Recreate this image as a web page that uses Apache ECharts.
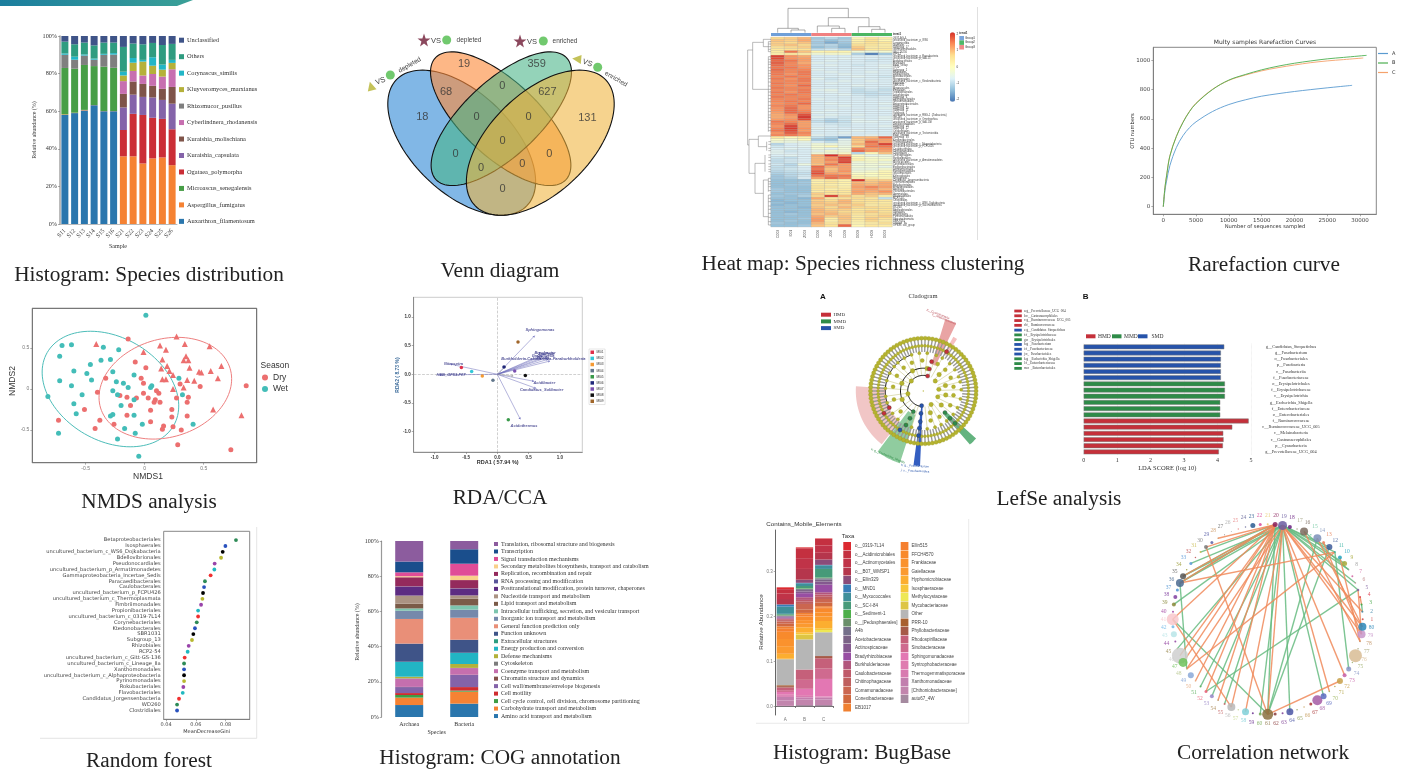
<!DOCTYPE html>
<html><head><meta charset="utf-8">
<style>html,body{margin:0;padding:0;background:#fff}#c{width:1407px;height:771px}</style>
<script src="https://cdn.jsdelivr.net/npm/echarts@6/dist/echarts.min.js"></script>
</head><body><div id="c"></div>
<script>
// ---------- Species distribution ----------
const speciesSamples=['S11','S12','S13','S14','S15','S16','S21','S22','S23','S24','S25','S26'];
const speciesNames=['Auxarthron_filamentosum','Aspergillus_fumigatus','Microascus_senegalensis','Ogataea_polymorpha','Kuraishia_capsulata','Kuraishia_molischiana','Cyberlindnera_rhodanensis','Rhizomucor_pusillus','Kluyveromyces_marxianus','Corynascus_similis','Others','Unclassified'];
const speciesColors=['#2a76ad','#f58233','#479e46','#cb2e36','#8463a9','#7f5449','#c76fb0','#7f7f7f','#b5b13a','#22b6c7','#2f9c80','#3f5488'];
const spAux=[58,59,60.4,63.2,60,60,0,0,0,0,0,0];
const spAsp=[.3,.2,.3,.1,.1,.1,36,36,32.2,34.9,35.4,31.3];
const spMic=[24.7,23.4,23.9,20.7,23.6,23,0,0,0,0,0,0];
const spOga=[0,0,0,0,0,0,14,22.6,25.8,21.6,20.5,19.1];
const spKca=[0,0,0,0,0,0,12,10.2,9.6,10.8,10.1,13.6];
const spKmo=[0,0,0,0,0,0,7.2,7,6.9,6.2,5.9,8.9];
const spCyb=[0,0,0,0,0,0,6.8,5.6,4.5,6.3,6.5,9.4];
const spRhi=[7,4.8,5,3.4,6.3,7,0,0,0,0,0,0];
const spKly=[0,0,0,0,0,0,3,4.4,7.4,4.4,3.7,3.4];
const spCor=[.7,1.6,.6,.6,.5,.8,2,2.5,.9,4.5,2.7,1.6];
const spOth=[6.3,6.6,6.3,7,6,5.6,13.2,7.7,8.3,7.6,10.4,8.5];
const spUnc=[3,4.4,3.5,5,3.5,3.5,5.8,4,4.4,3.7,4.8,4.2];
const speciesValues=[spAux,spAsp,spMic,spOga,spKca,spKmo,spCyb,spRhi,spKly,spCor,spOth,spUnc];

// ---------- Venn ----------
const vennCounts=[18,19,68,359,627,131,0,0,0,0,0,0,0,0,0];
const vennSpots=[[247,352],[372,193],[318,276],[590,193],[622,276],[742,354],[487,259],[410,352],[566,352],[488,423],[347,462],[628,462],[423,505],[547,492],[488,568]];
const vennShapes=[[461.7,142.7,90.7,50,44,'rgba(45,135,214,.6)'],[500.7,118.7,89.3,37.7,43,'rgba(251,138,60,.62)'],[501.3,118.7,89.3,37.7,-43,'rgba(70,180,135,.58)'],[540.3,142.7,90.7,50,-44,'rgba(240,180,60,.58)']];

// ---------- Heat map ----------
const heatCols=['C003','I001','Z003','C006','J006','C009','G009','H009','G003'];
const heatRows=['JG37-AG-4','uncultured_bacterium_p_WS6','Longimicrobia','Gaiellales','Subgroup_17','Gemmatimonadales','IMCC26256','WPS-2','uncultured_bacterium_p_Parcubacteria','uncultured_bacterium_p_GAL15','Acidobacteriales','Frankiales','Polar_Group','TK10','Subgroup_2','Rhizobiales','Solibacterales','Acetobacterales','Micropepsales','uncultured_bacterium_c_Ktedonobacteria','Elsterales','SBR1031','Myxococcales','Pirellulales','Tepidisphaerales','Isosphaerales','Subgroup_6','Sphingobacteriales','Nitrosomonadales','Betaproteobacteriales','Subgroup_3','Subgroup_10','Subgroup_11','Subgroup_7','uncultured_bacterium_p_RBG-1_(Zixibacteria)','Gitt-GS','uncultured_bacterium_p_Omnitrophica','uncultured_bacterium_p_GAL15b','Dehalococcoidales','Subgroup_18','Subgroup_22','Chloroflexales','uncultured_bacterium_p_Tectomicrobia','Polar_lineage','Subgroup_13','Ktedonobacterales','Thermoplasmata','uncultured_bacterium_c_Magnetobacteria','uncultured_bacterium_p_FCPU426','Caulobacterales','Xanthomonadales','Clostridiales','Chitinophagales','Burkholderiales','uncultured_bacterium_p_Armatimonadetes','Micrococcales','Corynebacteriales','Propionibacteriales','Streptomycetales','Pseudonocardiales','Glycomycetales','Kineosporiales','Nitrospirales','Candidatus_Jorgensenbacteria','Thermomicrobiales','Rokubacteriales','Fimbriimonadales','Bacillales','Vicinamibacterales','Gemmatales','Blastocatellales','RCP2-54','Chlorobiales','uncultured_bacterium_c_WS6_Dojkabacteria','uncultured_bacterium_p_Saccharibacteria','WD260','Bdellovibrionales','Opitutales','Oligoflexales','Pyrinomonadales','Sericytochromatia','SBR-1031','Lineage_IIa','OPB35_soil_group'];
const heatValues=[
[.7,.8,1,-1.2,-1,-1.2,.1,.5,.3],[.9,.8,1.1,-1.1,-1.3,-1.1,.3,.6,.2],[.8,.7,.9,-1.2,-1.5,-1.2,.4,.6,.5],[.8,.9,.7,-1.1,-1,-1.3,.6,.5,.3],[.6,.7,.8,-1.3,-1.1,-1.4,.8,.4,.4],[.5,.6,.6,-.9,-.8,-1,.9,.5,.5],[.4,1.5,.9,.2,.3,.2,-.3,-.4,-.2],[.3,.5,.4,-.3,-.2,-.2,-1.1,-1.9,-1.2],
[1.9,1.3,1.1,-.7,-.7,-.7,-.7,-.7,-.7],[1.8,1.3,1.2,-.7,-.7,-.6,-.7,-.7,-.8],[1.6,1.5,1.2,-.7,-.6,-.7,-.7,-.8,-.7],[1.7,1.4,1.1,-.6,-.7,-.7,-.7,-.7,-.7],[1.6,1.4,1.3,-.7,-.6,-.7,-.8,-.7,-.6],[1.5,1.5,1.3,-.7,-.7,-.7,-.7,-.7,-.6],[1.6,1.4,1.4,-.6,-.7,-.7,-.7,-.7,-.7],[1.5,1.4,1.5,-.7,-.6,-.7,-.7,-.6,-.7],[1.5,1.3,1.5,-.7,-.7,-.6,-.7,-.7,-.7],[1.4,1.5,1.4,-.7,-.7,-.7,-.6,-.7,-.8],[1.5,1.3,1.5,-.6,-.8,-.7,-.7,-.7,-.7],[1.4,1.4,1.5,-.7,-.7,-.6,-.7,-.6,-.7],[1.5,1.4,1.4,-.7,-.6,-.7,-.7,-.7,-.7],[1.4,1.3,1.6,-.7,-.7,-.7,-.6,-.7,-.7],[1.5,1.4,1.4,-.7,-.7,-.7,-.8,-.7,-.8],[1.4,1.4,1.5,-.6,-.5,-.7,-.9,-.8,-.9],[1.5,1.3,1.5,-.7,-.6,-.7,-.9,-.9,-.8],[1.4,1.5,1.4,-.7,-.7,-.6,-.8,-.9,-.9],[1.5,1.4,1.4,-.7,-.7,-.7,-.7,-.8,-.7],[1.4,1.4,1.5,-.6,-.7,-.7,-.7,-.7,-.7],[1.4,1.5,1.4,-.7,-.7,-.7,-.7,-.7,-.7],[1.3,1.4,1.6,-.7,-.6,-.7,-.7,-.7,-.6],[1.4,1.5,1.3,-.7,-.7,-.6,-.7,-.7,-.7],[1.3,1.6,1.3,-.7,-.7,-.7,-.7,-.7,-.6],[1.3,1.6,1.4,-.7,-.6,-.7,-.7,-.7,-.7],[1.2,1.6,1.5,-.6,-.7,-.7,-.7,-.7,-.7],[1.1,1.3,1.8,-.7,-.6,-.7,-.6,-.7,-.7],[1.1,1.2,2,-.6,-.7,-.8,-.7,-.7,-.6],[1.2,1.3,1.8,-.8,-1,-.8,-.6,-.7,-.6],[1.5,1.4,1.2,-.9,-1.1,-.9,-.6,-.6,-.7],[1.4,1.6,1.2,-.7,-.8,-.8,-.7,-.7,-.7],[1.3,1.9,1.2,-.7,-.7,-.8,-.7,-.7,-.6],[1.4,1.9,1.3,-.6,-.7,-.7,-.7,-.7,-.7],[1.5,1.8,1.2,-.7,-.7,-.7,-.6,-.7,-.7],[1.3,1.7,1.4,-.7,-.7,-.6,-.7,-.7,-.7],[1.4,1.5,1.3,-.6,-.7,-.7,-.7,-.6,-.7],
[.5,.1,.3,-.9,-1.1,-1.6,1,1,1.6],[-.1,-.3,.1,-1.2,-1.3,-.6,.9,1.2,1.2],[-.3,-.4,-.5,-.7,-.9,-.5,.8,1.6,1.2],[-1,-.7,-.6,-.3,-.4,-.5,1,1.4,1.9],[-.8,-.7,-.6,-.2,.1,-.4,.7,1.5,1.5],[-.7,-.6,-.7,-.3,-.6,-.3,1.4,1.2,1.3],[-.6,-.8,-.7,-.5,-.2,-.3,1.6,1.3,1.2],[-.6,-.7,-.7,-.3,-.3,-.1,-1,.1,.9],
[-.7,-.6,-.7,1.1,2,1.2,-.1,-.5,-.4],[-.8,-.9,-.7,1,1.3,1.9,.1,-.2,-.3],[-.9,-.8,-.7,1,1.4,1.8,.2,-.1,-.1],[-.9,-.8,-.7,1,1.2,1.9,-.3,-.2,-.4],[-.8,-1,-.4,.9,1.5,1.2,-.4,-.3,-.2],[-.9,-.9,-.7,1.6,1.1,1.2,-.3,-.3,-.5],[-.9,-.8,-.7,1.5,.9,1.2,-.4,-.4,-.2],[-1,-.9,-.8,1.7,1,1.3,-.3,-.2,.1],[-1.1,-1,-.9,1.8,1.2,1.1,-.1,0,.2],[-1.2,-1,-.8,1.5,1.5,1.5,.1,-.1,.1],[-1.2,-1.1,-.7,1.2,1.6,1.4,.2,.3,.1],
[-1.3,-1.3,-1.3,.3,.4,.2,2,.8,.8],[-1.3,-1.3,-1.2,.3,.5,.3,1,.9,1.1],[-1.3,-1.2,-1.2,.4,.3,.2,1.1,1,1.1],[-1.3,-1.3,-1.3,.5,.5,.3,1.2,1.4,1.2],[-1.2,-1.3,-1.3,.5,.3,.4,1.1,1.2,1],[-1.2,-1.3,-1.3,.4,.6,.5,1.2,1.1,1.3],[-1.3,-1.2,-1.2,.8,.5,.5,1.1,.9,1],[-1.2,-1.3,-1.1,.7,1.9,.9,.6,.8,.3],[-1.3,-1.3,-1.4,1.1,.5,.6,.7,.5,-.9],[-1.4,-1.3,-1.3,.8,.7,1,.6,.6,.5],[-1.3,-1.4,-1.3,.9,.8,1,.7,.5,.4],[-1.4,-1.3,-1.3,.8,.9,.8,.8,.4,.5],[-1.3,-1.3,-1.4,.9,.7,1,.7,.7,.6],[-1.3,-1.3,-1.3,1,.8,.8,.5,.6,.6],[-1.3,-1.4,-1.3,1,.9,.7,.6,.8,.6],[-1.3,-1.2,-1.3,.9,1,.8,.5,.6,.7],[-1.3,-1.3,-1.3,1.1,.8,.9,.4,.7,.8],[-1.3,-1.3,-1.2,1.2,.4,.9,.5,.8,.6],[-1.3,-1.2,-1.3,1.2,.3,.8,.3,.7,.4],[-1.2,-1.3,-1.3,1,.5,.8,.2,.4,.6],[-1.3,-1.3,-1.2,.9,.6,1.6,.2,.5,.4],[-1.3,-1.3,-1.3,1.1,.7,1,.1,.4,.5]];
const topTree=[[264,25,445,25],[264,25,264,85],[445,25,445,53],[233,85,295,85],[233,85,233,98],[295,85,295,90],[273,90,315,90],[273,90,273,98],[315,90,315,98],[385,53,507,53],[385,53,385,78],[507,53,507,80],[352,78,418,78],[352,78,352,98],[418,78,418,85],[395,85,435,85],[395,85,395,98],[435,85,435,98],[475,80,540,80],[475,80,475,98],[540,80,540,88],[515,88,555,88],[515,88,515,98],[555,88,555,98]];
const sideTree=[[143,150,143,435],[143,150,158,150],[158,127,158,268],[158,127,190,127],[190,118,190,140],[190,118,213,118],[190,140,205,140],[205,125,205,155],[158,268,205,268],[205,170,205,395],[143,435,147,435],[147,418,147,520],[147,418,175,418],[175,408,175,440],[175,408,213,408],[175,440,200,440],[200,425,200,452],[147,520,165,520],[165,490,165,580],[165,490,195,490],[195,465,195,515],[165,580,190,580],[190,540,190,650],[190,540,205,540],[205,535,205,575],[190,650,205,650],[205,585,205,675]];
const sideTwigs=[125,132,140,148,155,170,178,186,193,203,212,220,228,236,246,258,268,276,286,296,305,316,325,335,345,352,362,372,382,392,425,433,445,452,465,472,482,492,500,508,515,535,545,552,560,572,585,595,605,618,628,640,652,665,675];

// ---------- Rarefaction ----------
const rareA=[[0,0],[250,110],[500,175],[1000,280],[2000,405],[3000,485],[4000,540],[5000,580],[7500,650],[10000,698],[12500,730],[15000,755],[17500,772],[20000,787],[22500,800],[25000,812],[27000,821],[28800,829]];
const rareB=[[0,0],[250,130],[500,210],[1000,345],[2000,480],[3000,575],[4000,650],[5000,705],[7500,800],[10000,865],[12500,903],[15000,935],[17500,960],[20000,980],[22500,996],[25000,1010],[27500,1020],[31000,1034]];
const rareC=[[0,0],[250,130],[500,212],[1000,348],[2000,482],[3000,578],[4000,652],[5000,708],[7500,802],[10000,863],[12500,899],[15000,928],[17500,950],[20000,968],[22500,984],[25000,996],[27500,1005],[30500,1016]];

// ---------- NMDS ----------
const nmdsWet=[[.01,.9],[-.7,.53],[-.62,.54],[-.35,.51],[-.22,.48],[-.72,.4],[-.29,.36],[-.37,.35],[-.46,.3],[-.6,.22],[-.27,.21],[-.49,.19],[-.09,.17],[-.45,.11],[-.72,.1],[-.24,.09],[-.18,.07],[-.62,.04],[-.14,.02],[.06,.04],[.05,.02],[.29,.13],[-.27,-.02],[-.23,-.07],[-.53,-.07],[-.82,-.09],[.32,-.07],[-.09,-.13],[-.6,-.18],[-.2,-.2],[-.58,-.3],[-.29,-.33],[-.27,-.31],[-.09,-.32],[-.02,-.43],[.41,-.43],[-.17,-.48],[-.73,-.54],[-.08,-.54],[-.23,-.61],[-.05,-.82]];
const nmdsDry=[[-.14,.61],[-.08,.33],[.01,.26],[-.33,.13],[-.03,.13],[-.01,.07],[.3,.06],[.47,.03],[.86,.04],[-.4,-.04],[.1,-.02],[.12,-.05],[-.01,-.05],[-.21,-.08],[-.15,-.1],[-.07,-.11],[.03,-.11],[.09,-.13],[.08,-.16],[.13,-.16],[.27,-.11],[.37,-.1],[.36,-.16],[-.12,-.2],[.23,-.25],[.05,-.26],[-.51,-.25],[-.15,-.32],[.23,-.34],[.36,-.33],[-.73,-.38],[-.38,-.38],[.05,-.4],[-.26,-.43],[.16,-.45],[.24,-.46],[.15,-.49],[-.42,-.48],[.31,-.5],[.28,-.68],[.73,-.74]];
const nmdsDryTri=[[.27,.64],[-.41,.55],[.13,.53],[.34,.55],[.18,.48],[.55,.52],[-.01,.45],[.15,.36],[.35,.4],[.33,.35],[.37,.35],[.19,.28],[.14,.25],[.38,.26],[.65,.28],[.21,.22],[.24,.17],[.46,.21],[.48,.2],[.56,.22],[.15,.12],[.18,.12],[.36,.11],[.42,.1],[.62,.13],[.24,0],[.33,.02],[.58,-.25],[.82,-.32]];
const nmdsEllipses=[[-.29,0,73,51.7,30,'#4dbdb9'],[.175,.01,67.7,49,-17,'#ee7f7f']];

// ---------- RDA ----------
const rdaSites=['MI01','MI02','MI03','MI04','MI05','MI06','MI07','MI08','MI09'];
const rdaSiteXY=[[-.574,.117],[-.41,.047],[-.24,-.03],[-.07,-.105],[.175,-.793],[.106,.128],[.277,.058],[.447,-.023],[.33,.566]];
const rdaSiteColors=['#e0304a','#35c8d8','#f59a33','#62778c','#3a9a4a','#20287a','#7a50b0','#111111','#a0662a'];
const rdaArrowTips=[[.596,.676],[-.755,.18],[-.93,-.01],[.84,.233],[.81,.262],[.787,.29],[.745,.356],[.72,.32],[.7,.28],[.585,-.122],[.617,-.245],[.367,-.787]];
const rdaGrey=[[.14,.146],[.255,-.03]];
const rdaTaxa=['Sphingomonas','Nitrospira','HSB_OF53-F07','Burkholderia-Caballeronia-Paraburkholderia','Bryobacter','Acidipila','Granulicella','Dyella','Acidibacter','Candidatus_Solibacter','Acidothermus'];
const rdaTaxaAt=[[.68,.77],[-.7,.186],[-.74,-.012],[.736,.268],[.76,.38],[.78,.355],[.73,.315],[.73,.29],[.75,-.157],[.707,-.28],[.426,-.9]];

// ---------- Cladogram ----------
const cladoLeaves=[0,4,8,12,16,20,24,28,32,36,40,44,48,52,56,60,64,68,72,76,80,84,88,92,96,100,104,108,112,116,120,124,128,132,136,140,144,148,152,156,160,164,168,172,176,180,184,188,192,196,200,204,208,212,216,220,224,228,232,236,240,244,248,252,256,260,264,268,272,276,280,284,288,292,296,300,304,308,312,316,320,324,328,332,336,340,344,348,352,356];
const cladoRing38=[2,14,22,34,46,60,70,84,96,108,120,132,140,152,164,176,188,198,216,228,243,252,276,288,298,308,322,334,348];
const cladoRing30=[8,26,44,62,92,112,130,150,172,196,222,284,302,332,352];
const cladoRing23=[14,46,80,118,160,202,288,322,350];
const cladoRing15=[6,40,140,190,300,338];
const cladoRed=[[30.5,74.1],[22.8,74.7],[15.6,73.9],[45.7,59.3],[37.9,206.1],[45.2,209.6]];
const cladoGreen=[[23,244.2],[30.4,244],[38.2,243],[30.6,315],[38.2,314.3],[45.3,314.4]];
const cladoBlue=[[14.8,263.5],[22.5,264],[30.8,264.4],[37.5,263.9],[44.9,264],[45.4,239.1]];
const cladoSectors=[[38,67.5,176,232,'rgba(222,120,120,.42)'],[25,76,233,252,'rgba(70,170,95,.6)'],[15,75,262.5,267.5,'rgba(40,85,190,.95)'],[32,71,311,318,'rgba(60,160,95,.8)'],[28,75,64,73,'rgba(215,90,90,.55)'],[42,62,57,61,'rgba(240,150,150,.6)']];
const cladoArcs=[[15.6,74,263],[22.8,75,245],[38,110,206]];
const cladoKey=['a:g__Prevotellaceae_UCG_004','b:c__Gastranaerophilales','c:g__Ruminococcaceae_UCG_005','d:f__Ruminococcaceae','e:g__Candidatus_Stoquefichus','f:f__Erysipelotrichaceae','g:o__Erysipelotrichales','h:g__Fusobacterium','i:f__Fusobacteriaceae','j:o__Fusobacteriales','k:g__Escherichia_Shigella','l:f__Enterobacteriaceae','m:o__Enterobacteriales'];
const cladoKeyGroup=[0,0,0,0,2,1,1,2,2,2,1,1,1];
const ldaColors=['#c5303a','#2e8b48','#2653aa'];

// ---------- LDA ----------
const ldaNames=['g__Candidatus_Stoquefichus','g__Fusobacterium','o__Fusobacteriales','p__Fusobacteria','c__Fusobacteriia','f__Fusobacteriaceae','o__Erysipelotrichales','f__Erysipelotrichaceae','c__Erysipelotrichia','g__Escherichia_Shigella','f__Enterobacteriaceae','o__Enterobacteriales','f__Ruminococcaceae','c__Ruminococcaceae_UCG_005','c__Melainabacteria','c__Gastranaerophilales','p__Cyanobacteria','g__Prevotellaceae_UCG_004'];
const ldaScores=[4.2,4.1,4.1,4.1,4.1,4.1,4.22,4.22,4.22,4.08,4.08,4.08,4.93,4.44,4.17,4.18,4.16,4.04];
const ldaGroups=[2,2,2,2,2,2,1,1,1,1,1,1,0,0,0,0,0,0];

// ---------- Random forest ----------
const rfNames=['Betaproteobacteriales','Isosphaerales','uncultured_bacterium_c_WS6_Dojkabacteria','Bdellovibrionales','Pseudonocardiales','uncultured_bacterium_p_Armatimonadetes','Gammaproteobacteria_Incertae_Sedis','Paracaedibacterales','Caulobacterales','uncultured_bacterium_p_FCPU426','uncultured_bacterium_c_Thermoplasmata','Fimbriimonadales','Propionibacteriales','uncultured_bacterium_c_0319-7L14','Corynebacteriales','Ktedonobacterales','SBR1031','Subgroup_13','Rhizobiales','RCP2-54','uncultured_bacterium_c_Gitt-GS-136','uncultured_bacterium_c_Lineage_IIa','Xanthomonadales','uncultured_bacterium_c_Alphaproteobacteria','Pyrinomonadales','Rokubacteriales','Flavobacteriales','Candidatus_Jorgensenbacteria','WD260','Clostridiales'];
const rfValues=[.0869,.0798,.078,.0769,.0726,.0724,.0699,.0661,.0655,.0648,.0644,.0635,.0615,.0615,.0606,.0594,.0583,.0574,.0552,.0545,.0525,.0521,.0521,.0521,.0521,.0516,.0512,.0487,.0474,.0474];
const rfColors=['#2e8b57','#2a52be','#000000','#b8b830','#9944aa','#20b8c0','#f03030'];

// ---------- COG ----------
const cogKingdoms=['Archaea','Bacteria'];
const cogNames=['Amino acid transport and metabolism','Carbohydrate transport and metabolism','Cell cycle control, cell division, chromosome partitioning','Cell motility','Cell wall/membrane/envelope biogenesis','Chromatin structure and dynamics','Coenzyme transport and metabolism','Cytoskeleton','Defense mechanisms','Energy production and conversion','Extracellular structures','Function unknown','General function prediction only','Inorganic ion transport and metabolism','Intracellular trafficking, secretion, and vesicular transport','Lipid transport and metabolism','Nucleotide transport and metabolism','Posttranslational modification, protein turnover, chaperones','RNA processing and modification','Replication, recombination and repair','Secondary metabolites biosynthesis, transport and catabolism','Signal transduction mechanisms','Transcription','Translation, ribosomal structure and biogenesis'];
const cogArchaea=[6.8,4.2,1.5,1.1,3.4,.1,4.7,.2,.9,8.4,.1,10.3,14,4.7,1.3,2.7,4.6,5,.2,5.2,.6,2.2,6.1,11.7];
const cogBacteria=[7.6,6.8,.6,2,6.9,.1,3.8,.1,2.2,6.3,.1,7.4,12.5,4.6,2.4,3.8,1.9,3.8,.2,4.7,2.5,6.8,8.2,4.7];
const cogColors=['#2a76ad','#f58233','#3f9d45','#cf2d30','#8463a9','#835049','#c56fae','#7c7c7c','#b3b13a','#22b5c4','#2c9d80','#3f5488','#e98f78','#7689ab','#7dc5ae','#7b5b48','#ab9383','#5d2c82','#59559a','#942a5c','#f9d08b','#e04d97','#1a4e8c','#8c5c9e'];

// ---------- BugBase ----------
const bugGroups=['A','B','C'];
const bugTaxa=['o__0319-7L14','o__Acidimicrobiales','o__Actinomycetales','o__B07_WMSP1','o__Ellin329','o__MND1','o__Myxococcales','o__SC-I-84','o__Sediment-1','o__[Pedosphaerales]','A4b','Acetobacteraceae','Actinospicaceae','Bradyrhizobiaceae','Burkholderiaceae','Caulobacteraceae','Chitinophagaceae','Comamonadaceae','Conexibacteraceae','EB1017','Ellin515','FFCH4570','Frankiaceae','Gaiellaceae','Hyphomicrobiaceae','Isosphaeraceae','Methylocystaceae','Mycobacteriaceae','Other','PRR-10','Phyllobacteriaceae','Rhodospirillaceae','Sinobacteraceae','Sphingomonadaceae','Syntrophobacteraceae','Thermogemmatisporaceae','Xanthomonadaceae','[Chthoniobacteraceae]','auto67_4W'];
const bugA=[.004,.01,.012,.012,0,.005,.016,.002,.001,.001,.001,.001,.002,.002,.002,.002,.003,.005,.006,.004,.008,.016,.016,.017,.011,.001,0,0,.058,.002,.003,.006,.004,.005,.002,.004,.008,.012,.001];
const bugB=[.002,.022,.024,.024,.007,.001,.006,.005,.001,.001,.002,.003,.004,.009,.006,.004,.005,.012,.008,.004,.004,.008,.008,.008,.012,.004,.001,.01,.067,0,0,.023,.02,.014,.002,.003,.005,.012,.003];
const bugC=[.001,.015,.016,.015,.012,.001,.008,.019,.001,.001,.003,.004,.007,.017,.005,.005,.005,.008,.008,.003,.003,.008,.009,.01,.016,.004,.005,0,.053,0,.005,.023,.023,.039,.001,.001,.005,.012,.003];
const bugColors=['#dc2a30','#c43040','#c03348','#b5364c','#8a4c7a','#377eb8','#3f8f9a','#479a79','#4daf4a','#6a8f6a','#75708a','#7b6386','#84598f','#984ea3','#b2567c','#bf5a69','#bf5f5e','#cb6650','#d0683f','#f08030','#f58030','#f88a2c','#fa922d','#fb9a2f','#fcae30','#f7c63a','#eee855','#ddc545','#b6b6b6','#a8602e','#a65a48','#c5607a','#cf6a8f','#e377b3','#df7cb0','#d87bb0','#c27fae','#c285ad','#a58aa0'];

// ---------- Network ----------
const netSizes=[2,2,2,2,2.5,1.5,2,1.5,5,4,2,6,3,8,1.5,8,1.5,4,9,5,2,3,5,1.5,1.5,1,1,1.5,3,4,2,1.5,3,1.5,6,8,3,4,4,2,12,3,6,2,1.5,16,9,1.5,6,1.5,2,3,4,1.5,2,8,1.5,7,2,3,11,3,2,7,1.5,1.5,3,10,6,1.5,1.5,6,4,5,1.5,13,1.5,1.5,8,8];
const netColors=['#cc4444','#4488aa','#3aa03a','#dd3344','#8060a0','#c08888','#d060a0','#999999','#a8a83a','#22a6c0','#30b0a0','#3f5c9a','#e8825a','#7b8fb8','#70c8a0','#7a6a5e','#999977','#6a1f80','#6a5aa0','#8a1f5a','#e8c86a','#d84a9a','#2a5a90','#666699','#e88a8a','#aaaaaa','#6a6a6a','#cc9966','#5a60a8','#7a7a7a','#c8b84a','#c05050','#5a9ad8','#999933','#555555','#4a6a90','#4a90d0','#8040a0','#8a8a3a','#a040a0','#f8c8cc','#70b8e8','#b8e5e8','#9040a0','#9a8a50','#cfcfcf','#6ec25a','#b8c890','#8aa8d8','#e8b088','#55aa55','#e8607a','#9a88c8','#aa8855','#c66666','#b8b8b8','#c8d890','#7fd0d8','#6a2f90','#77aa55','#8a7040','#8a3a3a','#7a3a90','#4a55a5','#8a9a50','#c8a060','#a83333','#a55aa5','#5a6ac0','#a0b860','#b0a040','#c8a04a','#c55fa8','#8795c5','#a0b070','#d8bc94','#a0a070','#c09060','#c795c9','#2a87b8'];
const netGreen=[[19,33],[19,35],[19,36],[19,39],[20,36],[20,35],[19,45],[19,51],[19,53],[19,55],[19,60],[20,61],[19,64],[19,69],[19,12],[19,11],[19,9],[19,8],[19,6],[19,5],[16,8],[14,61],[12,61],[11,74],[5,52],[41,61],[36,48],[3,2],[20,31]];
const netOrange=[[20,36],[20,35],[20,30],[20,28],[20,41],[20,46],[19,48],[20,50],[20,52],[20,54],[20,56],[19,58],[19,73],[19,80],[19,79],[19,70],[16,78],[19,2],[11,48],[36,11],[41,56],[30,61],[72,61],[14,80],[13,79],[10,78],[4,3],[5,79],[20,47],[19,61]];

// ---------- Text ----------
const captions=[['Histogram: Species distribution',149,275.5],['Venn diagram',500,271.5],['Heat map: Species richness clustering',863,264.5],['Rarefaction curve',1264,265.5],['NMDS analysis',149,502.5],['RDA/CCA',500,498.5],['LefSe analysis',1059,499.5],['Random forest',149,761],['Histogram: COG annotation',500,758],['Histogram: BugBase',862,753.5],['Correlation network',1263,753.5]];

// ============= build =============
const SERIF='"Liberation Serif"',SANS='"Liberation Sans"',DEJA='"DejaVu Sans"';
function T(text,x,y,size,o){o=o||{};return {type:'text',x:x,y:y,rotation:(o.rot||0)*Math.PI/180,silent:true,z:o.z||20,style:{text:text,fill:o.color||'#333',font:(o.weight?o.weight+' ':'')+size+'px '+(o.font||SERIF),textAlign:o.align||'left',textVerticalAlign:'middle'}};}
function R(x,y,w,h,c,z){return {type:'rect',silent:true,z:z||20,shape:{x:x,y:y,width:w,height:h},style:{fill:c}};}
const graphic=[];
captions.forEach(c=>graphic.push(T(c[0],c[1],c[2],21.3,{align:'center',color:'#222'})));
graphic.push({type:'polygon',silent:true,z:20,shape:{points:[[0,0],[193,0],[177,6],[0,6]]},style:{fill:{type:'linear',x:0,y:0,x2:1,y2:0,colorStops:[{offset:0,color:'#1b7e9e'},{offset:1,color:'#3aa097'}]}}});
graphic.push(T('Relative abundance (%)',34,130,6,{rot:90,align:'center'}),T('Sample',118,246,6,{align:'center'}));
// Venn side labels
[['VS',380.5,81,20],['depleted',409.7,65,30],['VS',436,41,0],['depleted',469,40,0],['VS',532,42,0],['enriched',565,41,0],['VS',587.5,63,-20],['enriched',616,79,-30]].forEach(a=>graphic.push(T(a[0],a[1],a[2],a[0]=='VS'?7.5:6.5,{align:'center',font:SANS,rot:a[3],color:'#444'})));
// heat map annotation
[[771,'#6f9fd8'],[811.3,'#f08080'],[851.7,'#4bb562']].forEach(a=>graphic.push(R(a[0],33,40.3,3,a[1])));
graphic.push(T('treat1',893,34.3,3,{weight:'bold',font:SANS}),T('treat1',959.3,33.3,3,{weight:'bold',font:SANS}));
[['Group1','#7ba6dc',36],['Group2','#4eb868',40.4],['Group3','#f08a8a',45]].forEach(a=>{graphic.push(R(959.3,a[2],4.7,4.5,a[1]),T(a[0],965,a[2]+2.2,3,{font:SANS}));});
[['2',34],['1',50],['0',67],['-1',83],['-2',99]].forEach(a=>graphic.push(T(a[0],956.5,a[1],3,{font:SANS})));
graphic.push(R(977,7,.8,233,'#d8d8d8'));
// Rarefaction
graphic.push(T('Multy samples Rarefaction Curves',1265,42.5,6,{align:'center',font:DEJA}),T('Number of sequences sampled',1265,227,5.2,{align:'center',font:DEJA}),T('OTU numbers',1132.5,131,5.2,{rot:90,align:'center',font:DEJA}));
// NMDS
graphic.push(T('NMDS1',148,477,8.5,{align:'center',font:SANS}),T('NMDS2',13,381,8.5,{rot:90,align:'center',font:SANS}),T('Season',260.5,366,8.5,{font:SANS}));
// RDA
graphic.push(T('RDA1 ( 57.94 %)',497.7,462,5.5,{align:'center',font:SANS,weight:'bold'}),T('RDA2 ( 8.73 %)',398,375,5,{rot:90,align:'center',font:SANS,weight:'bold',color:'#3a6a9a'}));
// LefSe
graphic.push(T('A',823,297,8,{align:'center',font:SANS,weight:'bold',color:'#111'}),T('Cladogram',923,296,6.5,{align:'center'}),T('B',1085.7,297,8,{align:'center',font:SANS,weight:'bold',color:'#111'}));
['HMD','MMD','SMD'].forEach((n,i)=>{graphic.push(R(821,312.7+i*6.7,10,4,ldaColors[i]),T(n,833.5,314.7+i*6.7,5));});
cladoKey.forEach((n,i)=>{graphic.push(R(1014.3,309.6+i*4.78,7.5,2.8,ldaColors[cladoKeyGroup[i]]),T(n,1024,311+i*4.78,3.3));});
[[1086,1098,'HMD'],[1112,1124,'MMD'],[1138,1151.5,'SMD']].forEach((a,i)=>{graphic.push(R(a[0],334.3,9.5,4,ldaColors[i]),T(a[2],a[1],336.3,5.5));});
graphic.push(T('LDA SCORE (log 10)',1167.3,468,6.5,{align:'center'}));
graphic.push(T('p__Cyanobacteria',938,314,3,{rot:-22,align:'center',color:'#b84a55',font:SANS}),T('c__Melainabacteria',944,319,3,{rot:-22,align:'center',color:'#b84a55',font:SANS}),T('k: g__Escherichia_Shigella',888,456,3,{rot:-22,align:'center',color:'#2e8b48',font:SANS}),T('h: g__Fusobacterium',915,466,3,{rot:-3,align:'center',color:'#2653aa',font:SANS}),T('j: o__Fusobacteriales',915,471,3,{rot:-3,align:'center',color:'#2653aa',font:SANS}));
// RF
graphic.push(T('MeanDecreaseGini',206.7,732,5,{align:'center',font:DEJA}));
// COG
graphic.push(T('Relative abundance (%)',357,632,6,{rot:90,align:'center'}),T('Species',436.7,732,6,{align:'center'}));
// BugBase
graphic.push(T('Contains_Mobile_Elements',804,524.5,6.2,{align:'center',font:SANS}),T('Taxa',848,536,6,{align:'center',font:SANS}),T('Relative Abundance',761.7,622,6.2,{rot:90,align:'center',font:SANS}));

// helpers
const hide={show:false};
function linear(grid,min,max,ticks,fmt,extra){return Object.assign({type:'value',gridIndex:grid,min:min,max:max,scale:false,splitLine:hide,axisLine:{show:true,onZero:false,lineStyle:{color:'#777',width:.8}},axisTick:{show:true,length:2,customValues:ticks,lineStyle:{color:'#777',width:.6}},axisLabel:{customValues:ticks,formatter:fmt,fontSize:6,color:'#444',margin:3,hideOverlap:false,showMinLabel:true,showMaxLabel:true}},extra||{});}
function catAx(grid,data,extra){return Object.assign({type:'category',gridIndex:grid,data:data,splitLine:hide,axisLine:{show:true,lineStyle:{color:'#aaa',width:.8}},axisTick:hide,axisLabel:{interval:0,fontSize:6,color:'#333',margin:3}},extra||{});}
function legend(names,left,top,w,h,spacing,size,font,extra){return Object.assign({data:names,orient:'vertical',left:left,top:top,itemWidth:w,itemHeight:h,itemGap:spacing-Math.max(h,size),icon:'rect',padding:0,selectedMode:false,textStyle:{fontSize:size,lineHeight:size,fontFamily:font,color:'#333',padding:[0,0,0,-2]}},extra||{});}
function overlay(renderItem,data,z){return {type:'custom',coordinateSystem:'cartesian2d',xAxisIndex:0,yAxisIndex:0,silent:true,z:z||3,data:data,renderItem:renderItem,clip:false};}
function segs(list,color,width,z){return overlay((p,api)=>{const a=api.coord([api.value(0),api.value(1)]),b=api.coord([api.value(2),api.value(3)]);return {type:'line',shape:{x1:a[0],y1:a[1],x2:b[0],y2:b[1]},style:{stroke:color,lineWidth:width,fill:null}};},list,z);}
function ellipsePts(c,a,b,th){const t=th*Math.PI/180,pts=[];for(let i=0;i<120;i++){const u=i/120*2*Math.PI,x=a*Math.cos(u),y=b*Math.sin(u);pts.push([c[0]+x*Math.cos(t)-y*Math.sin(t),c[1]+x*Math.sin(t)+y*Math.cos(t)]);}return pts;}

const xAxes=[],yAxes=[],grids=[],series=[];
function addGrid(l,t,w,h,x,y,extra){const i=grids.length;grids.push(Object.assign({left:l,top:t,width:w,height:h,containLabel:false,show:false},extra||{}));x.gridIndex=i;y.gridIndex=i;xAxes.push(x);yAxes.push(y);return i;}
addGrid(0,0,1407,771,{type:'value',min:0,max:1407,show:false},{type:'value',min:0,max:771,inverse:true,show:false});

// Venn
series.push(overlay((p,api)=>{const s=vennShapes[p.dataIndex];return {type:'polygon',shape:{points:ellipsePts(api.coord([api.value(0),api.value(1)]),s[2],s[3],s[4])},style:{fill:s[5],stroke:'#111',lineWidth:1.1}};},vennShapes.map(s=>[s[0],s[1]]),3));
series.push({type:'scatter',xAxisIndex:0,yAxisIndex:0,symbolSize:0,silent:true,z:6,data:vennCounts.map((v,i)=>({value:[340+vennSpots[i][0]/3,vennSpots[i][1]/3],label:{show:true,formatter:String(v),position:'inside',fontSize:11,fontFamily:SANS,color:'#333'}}))});
series.push({type:'scatter',xAxisIndex:0,yAxisIndex:0,silent:true,symbol:'path://M50 0L62 35L98 35L69 57L79 92L50 71L21 92L31 57L2 35L38 35Z',symbolSize:13,itemStyle:{color:'#6e1a35'},data:[[424,40],[520,41]],z:6});
series.push({type:'scatter',xAxisIndex:0,yAxisIndex:0,silent:true,symbol:'triangle',symbolSize:9,itemStyle:{color:'#b5b32f'},data:[{value:[371,86],symbolRotate:15},{value:[576.7,59],symbolRotate:85}],z:6});
series.push({type:'scatter',xAxisIndex:0,yAxisIndex:0,silent:true,symbol:'circle',symbolSize:9,itemStyle:{color:'#4dbb4a'},data:[[390.3,75],[446.7,40],[543.3,41],[597.7,67.3]],z:6});

// Heat dendrograms
const z3=(s)=>s.map(a=>[700+a[0]/3,a[1]/3,700+a[2]/3,a[3]/3]);
series.push(segs(z3(topTree),'#777',.6));
series.push(segs(z3(sideTree.concat(sideTwigs.map(y=>[205,y,213,y]))),'#777',.5));

// Species stacked
let g=addGrid(60,36,117,188,catAx(0,speciesSamples,{axisLabel:{interval:0,rotate:45,fontSize:6.2,fontFamily:SERIF,color:'#333',margin:6}}),
 linear(0,0,100,[0,20,40,60,80,100],v=>v+'%',{axisLine:{show:true,lineStyle:{color:'#aaa',width:1.6}},axisLabel:{customValues:[0,20,40,60,80,100],formatter:v=>v+'%',fontSize:6.2,fontFamily:SERIF,color:'#333',margin:3}}));
speciesNames.forEach((n,i)=>series.push({type:'bar',name:n,xAxisIndex:g,yAxisIndex:g,stack:'sp',barWidth:7,silent:true,itemStyle:{color:speciesColors[i]},data:speciesValues[i]}));

// Heatmap
g=addGrid(771,37.3,121,189.4,catAx(0,heatCols,{position:'bottom',axisLine:hide,axisLabel:{interval:0,rotate:90,fontSize:3.5,color:'#555',margin:3,fontFamily:SANS}}),
 catAx(0,heatRows,{inverse:true,position:'right',axisLine:hide,axisLabel:{interval:0,fontSize:2.6,color:'#444',margin:1,fontFamily:SANS}}));
const heatIdx=series.length;
const heatData=[];heatValues.forEach((r,y)=>r.forEach((v,x)=>heatData.push([x,y,v])));
series.push({type:'heatmap',xAxisIndex:g,yAxisIndex:g,data:heatData,itemStyle:{borderColor:'#aaa',borderWidth:.3},silent:true,progressive:0});

// Rarefaction
const tickStyle={fontSize:5.5,fontFamily:DEJA,color:'#444',margin:3,formatter:v=>String(v)};
g=addGrid(1153.3,47.3,223,167,linear(0,-1525,32490,[0,5000,10000,15000,20000,25000,30000],v=>String(v),{axisLabel:Object.assign({customValues:[0,5000,10000,15000,20000,25000,30000]},tickStyle)}),
 linear(0,-52,1089,[0,200,400,600,800,1000],v=>String(v),{axisLabel:Object.assign({customValues:[0,200,400,600,800,1000]},tickStyle)}),{show:true,borderColor:'#888',borderWidth:1,backgroundColor:'transparent'});
[['A',rareA,'#5a9bd0'],['C',rareC,'#f5a26c'],['B',rareB,'#4caf50']].forEach(s=>series.push({type:'line',name:s[0],xAxisIndex:g,yAxisIndex:g,data:s[1],smooth:.35,showSymbol:false,silent:true,lineStyle:{color:s[2],width:.9},itemStyle:{color:s[2]}}));

// NMDS
g=addGrid(32.3,308.3,224.4,154.4,linear(0,-.952,.949,[-.5,0,.5],v=>v,{axisLabel:{customValues:[-.5,0,.5],fontSize:5,color:'#777',margin:3,fontFamily:SANS}}),
 linear(0,-.898,.984,[-.5,0,.5],v=>v,{axisLabel:{customValues:[-.5,0,.5],fontSize:5,color:'#777',margin:3,fontFamily:SANS}}),{show:true,borderColor:'#555',borderWidth:1,backgroundColor:'transparent'});
series.push({type:'scatter',name:'Dry',xAxisIndex:g,yAxisIndex:g,symbolSize:5,silent:true,itemStyle:{color:'#ec6f6f',opacity:1},data:nmdsDry});
series.push({type:'scatter',name:'Dry ',xAxisIndex:g,yAxisIndex:g,symbol:'triangle',symbolSize:6,silent:true,itemStyle:{color:'#ec6f6f',opacity:1},data:nmdsDryTri});
series.push({type:'scatter',name:'Wet',xAxisIndex:g,yAxisIndex:g,symbolSize:5,silent:true,itemStyle:{color:'#43bdb8',opacity:1},data:nmdsWet});
series.push({type:'custom',xAxisIndex:g,yAxisIndex:g,coordinateSystem:'cartesian2d',silent:true,clip:false,data:nmdsEllipses.map(e=>[e[0],e[1]]),renderItem:(p,api)=>{const e=nmdsEllipses[p.dataIndex];return {type:'polygon',shape:{points:ellipsePts(api.coord([api.value(0),api.value(1)]),e[2],e[3],e[4])},style:{fill:'none',stroke:e[5],lineWidth:1}};}});

// RDA
const boldTick={fontSize:4.5,fontWeight:'bold',fontFamily:SANS,color:'#333',margin:3};
g=addGrid(413.7,297.3,168.6,154.7,linear(0,-1.335,1.356,[-1,-.5,0,.5,1],v=>v.toFixed(1),{axisLabel:Object.assign({customValues:[-1,-.5,0,.5,1],formatter:v=>v.toFixed(1)},boldTick)}),
 linear(0,-1.359,1.347,[-1,-.5,0,.5,1],v=>v.toFixed(1),{axisLabel:Object.assign({customValues:[-1,-.5,0,.5,1],formatter:v=>v.toFixed(1)},boldTick)}),{show:true,borderColor:'#ccc',borderWidth:1,backgroundColor:'transparent'});
series.push({type:'lines',coordinateSystem:'cartesian2d',xAxisIndex:g,yAxisIndex:g,silent:true,symbol:'none',lineStyle:{color:'#bbb',type:'dashed',width:.7,opacity:1},data:[{coords:[[-1.335,0],[1.356,0]]},{coords:[[0,-1.359],[0,1.347]]}]});
series.push({type:'lines',coordinateSystem:'cartesian2d',xAxisIndex:g,yAxisIndex:g,silent:true,symbol:['none','arrow'],symbolSize:2,lineStyle:{color:'#6a6ab8',width:.5,opacity:1},data:rdaArrowTips.map(t=>({coords:[[0,0],t]}))});
series.push({type:'lines',coordinateSystem:'cartesian2d',xAxisIndex:g,yAxisIndex:g,silent:true,symbol:['none','arrow'],symbolSize:2,lineStyle:{color:'#999',width:.5,opacity:1},data:rdaGrey.map(t=>({coords:[[0,0],t]}))});
series.push({type:'scatter',xAxisIndex:g,yAxisIndex:g,silent:true,symbolSize:0,z:5,data:rdaTaxa.map((n,i)=>({value:rdaTaxaAt[i],label:{show:true,position:'inside',formatter:n,fontSize:4,fontWeight:'bold',fontStyle:'italic',fontFamily:SANS,color:'#2a2a80'}}))});
rdaSites.forEach((n,i)=>series.push({type:'scatter',name:n,xAxisIndex:g,yAxisIndex:g,silent:true,symbolSize:3.5,z:6,itemStyle:{color:rdaSiteColors[i],opacity:1},data:[rdaSiteXY[i]]}));

// LDA
g=addGrid(1083.7,343.7,167.3,111.3,linear(0,0,5,[0,1,2,3,4,5],v=>v,{position:'bottom',axisLine:{show:false},axisTick:{show:false},splitLine:{show:true,lineStyle:{color:'#ddd',type:'dotted',width:.6}},axisLabel:{customValues:[0,1,2,3,4,5],fontSize:6,fontFamily:SERIF,color:'#333',margin:2}}),
 catAx(0,ldaNames,{inverse:true,position:'right',axisLine:hide,axisLabel:{interval:0,fontSize:4.3,fontFamily:SERIF,color:'#333',align:'center',margin:40}}));
series.push({type:'bar',xAxisIndex:g,yAxisIndex:g,silent:true,barWidth:4.8,data:ldaScores.map((v,i)=>({value:v,itemStyle:{color:ldaColors[ldaGroups[i]],borderColor:'#777',borderWidth:.5}}))});

// RF
const rfCats=[''].concat(rfNames,[' ']);
g=addGrid(163.7,531.3,86,188,linear(0,.03844,.0961,[.04,.06,.08],v=>v.toFixed(2),{axisLabel:{customValues:[.04,.06,.08],formatter:v=>v.toFixed(2),fontSize:5,fontFamily:DEJA,color:'#444',margin:3}}),
 catAx(0,rfCats,{inverse:true,axisLine:{show:false},axisLabel:{interval:0,fontSize:5.15,fontFamily:DEJA,color:'#444',margin:3}}),{show:true,borderColor:'#888',borderWidth:1,backgroundColor:'transparent'});
series.push({type:'scatter',xAxisIndex:g,yAxisIndex:g,silent:true,symbolSize:3.8,data:rfValues.map((v,i)=>({value:[v,rfNames[i]],itemStyle:{color:rfColors[i%7],opacity:1}}))});
series.push(segs([[256.7,527,256.7,738.3],[40,738.3,256.7,738.3]],'#ddd',.8,2));

// COG
g=addGrid(381.7,541,110,176,catAx(0,cogKingdoms,{axisLine:{show:false},axisLabel:{interval:0,fontSize:6,fontFamily:SERIF,color:'#333',margin:4}}),
 linear(0,0,100,[0,20,40,60,80,100],v=>v+'%',{axisLine:{show:true,lineStyle:{color:'#999',width:1.2}},axisLabel:{customValues:[0,20,40,60,80,100],formatter:v=>v+'%',fontSize:6,fontFamily:SERIF,color:'#333',margin:3}}));
cogNames.forEach((n,i)=>series.push({type:'bar',name:n,xAxisIndex:g,yAxisIndex:g,stack:'cog',barWidth:28,silent:true,itemStyle:{color:cogColors[i]},data:[cogArchaea[i],cogBacteria[i]]}));

// BugBase
g=addGrid(775.7,530,57.6,185,catAx(0,bugGroups,{axisLine:{show:true,lineStyle:{color:'#666',width:1}},axisTick:{show:true,length:1.5,lineStyle:{color:'#666'}},axisLabel:{interval:0,fontSize:4.5,fontFamily:SANS,color:'#777',margin:2.5}}),
 linear(0,-.0193,.3927,[0,.1,.2,.3],v=>v.toFixed(1),{axisLine:{show:true,lineStyle:{color:'#666',width:1}},axisLabel:{customValues:[0,.1,.2,.3],formatter:v=>v.toFixed(1),fontSize:4.5,fontFamily:SANS,color:'#777',margin:3}}));
bugTaxa.slice().reverse().forEach((n,ri)=>{const i=bugTaxa.length-1-ri;series.push({type:'bar',name:n,xAxisIndex:g,yAxisIndex:g,stack:'bug',barWidth:17.3,silent:true,itemStyle:{color:bugColors[i]},data:[bugA[i],bugB[i],bugC[i]]});});
series.push(segs([[968.7,519,968.7,723.3],[756,723.3,968.7,723.3]],'#e4e4e4',.8,2));

// Cladogram (polar 0), network (polar 1)
const polar=[{center:[923.3,391],radius:80},{center:[1267.7,619.3],radius:95}];
const angleAxis=[{type:'value',min:0,max:360,startAngle:0,clockwise:false,show:false,polarIndex:0},{type:'value',min:0,max:360,startAngle:0,clockwise:false,show:false,polarIndex:1}];
const radiusAxis=[{type:'value',min:0,max:80,show:false,polarIndex:0},{type:'value',min:0,max:1,show:false,polarIndex:1}];
function polarCustom(data,ri,z){return {type:'custom',coordinateSystem:'polar',polarIndex:0,silent:true,z:z||2,clip:false,data:data,renderItem:ri};}
series.push(polarCustom(cladoSectors.map(s=>s.slice(0,4)),(p,api)=>{const r0=api.value(0),r1=api.value(1),a0=api.value(2),a1=api.value(3),pts=[];for(let k=0;k<=24;k++)pts.push(api.coord([r1,a0+(a1-a0)*k/24]));for(let k=24;k>=0;k--)pts.push(api.coord([r0,a0+(a1-a0)*k/24]));return {type:'polygon',shape:{points:pts},style:{fill:cladoSectors[p.dataIndex][4]}};},2));
series.push(polarCustom(cladoLeaves.map(a=>[a]),(p,api)=>{const a=api.coord([39,api.value(0)]),b=api.coord([53,api.value(0)]);return {type:'line',shape:{x1:a[0],y1:a[1],x2:b[0],y2:b[1]},style:{stroke:'#9a9a9a',lineWidth:1.4}};},2));
series.push(polarCustom(cladoRing38.map(a=>[a]),(p,api)=>{const a=api.coord([15.6,api.value(0)]),b=api.coord([38,api.value(0)]);return {type:'line',shape:{x1:a[0],y1:a[1],x2:b[0],y2:b[1]},style:{stroke:'#c9c98a',lineWidth:.6}};},2));
series.push(polarCustom(cladoArcs,(p,api)=>{const r=api.value(0),a0=api.value(1),a1=api.value(2),pts=[];for(let k=0;k<=60;k++)pts.push(api.coord([r,a0+(a1-a0)*k/60]));return {type:'polyline',shape:{points:pts},style:{stroke:'#111',lineWidth:1,fill:'none'}};},3));
[[cladoLeaves,52.8,4.2],[cladoLeaves,45.2,3],[cladoRing38,38,3.2],[cladoRing30,30.5,4],[cladoRing23,22.8,4.6],[cladoRing15,15.6,4.4]].forEach(r=>series.push({type:'scatter',coordinateSystem:'polar',polarIndex:0,silent:true,symbolSize:r[2],z:4,itemStyle:{color:'#b5b32f',borderColor:'#97961f',borderWidth:.3,opacity:1},data:r[0].map(a=>[r[1],a])}));
series.push({type:'scatter',coordinateSystem:'polar',polarIndex:0,silent:true,symbolSize:1.5,z:4,itemStyle:{color:'#b5b32f'},data:[[0,0]]});
[[cladoRed,ldaColors[0]],[cladoGreen,ldaColors[1]],[cladoBlue,ldaColors[2]]].forEach(c=>series.push({type:'scatter',coordinateSystem:'polar',polarIndex:0,silent:true,symbolSize:4.2,z:5,itemStyle:{color:c[1],borderColor:'#333',borderWidth:.3,opacity:1},data:c[0]}));

// Network
const netNodes=netSizes.map((s,idx)=>{const n=idx+1,deg=(n-1)*4.5,ang=deg*Math.PI/180,dist=9.2;return {name:String(n),value:[1,deg],symbolSize:s,itemStyle:{color:netColors[idx],opacity:.85},label:{show:true,position:'inside',formatter:String(n),offset:[Math.cos(ang)*dist,-Math.sin(ang)*dist],fontSize:5.5,fontFamily:SERIF,color:netColors[idx]}};});
const netLinks=netGreen.map(l=>({source:String(l[0]),target:String(l[1]),lineStyle:{color:'#66bb80'}})).concat(netOrange.map(l=>({source:String(l[0]),target:String(l[1]),lineStyle:{color:'#f08a5a'}})));
series.push({type:'graph',coordinateSystem:'polar',polarIndex:1,layout:'none',silent:true,roam:false,data:netNodes,links:netLinks,lineStyle:{width:1.4,opacity:.85,curveness:0},edgeSymbol:['none','none'],z:4});

const legends=[
 legend(speciesNames.slice().reverse(),179,37,5,5,16.47,6.4,SERIF),
 legend(['A','B','C'],1378,51,10,1.2,10,5.5,DEJA,{icon:'rect',textStyle:{fontSize:5,lineHeight:5,fontFamily:DEJA,color:'#333',padding:[0,0,0,-1]}}),
 legend(['Dry','Wet'],262,373,6,6,11,8.5,SANS,{icon:'circle',textStyle:{fontSize:8.5,lineHeight:8.5,fontFamily:SANS,color:'#333',padding:[0,0,0,0]}}),
 legend(rdaSites,589,349,3.5,3.5,6.13,3.2,SANS,{borderColor:'#ccc',borderWidth:.5,padding:1.5,textStyle:{fontSize:3.2,lineHeight:3.2,fontFamily:SANS,color:'#333',padding:[0,0,0,-2.5]}}),
 legend(cogNames.slice().reverse(),494,541,4,4,7.48,6,SERIF),
 legend(bugTaxa.slice(0,20),843.3,542,7.7,8,8.5,4.5,SANS,{textStyle:{fontSize:4.5,lineHeight:4.5,fontFamily:SANS,color:'#444',padding:[0,0,0,-1]}}),
 legend(bugTaxa.slice(20),900.7,542,7.7,8,8.5,4.5,SANS,{textStyle:{fontSize:4.5,lineHeight:4.5,fontFamily:SANS,color:'#444',padding:[0,0,0,-2]}})
];
const chart=echarts.init(document.getElementById('c'),null,{renderer:'canvas',width:1407,height:771});
chart.setOption({animation:false,backgroundColor:'#fff',tooltip:{show:false},graphic:{elements:graphic},grid:grids,xAxis:xAxes,yAxis:yAxes,polar:polar,angleAxis:angleAxis,radiusAxis:radiusAxis,legend:legends,
 visualMap:{type:'continuous',seriesIndex:heatIdx,min:-2,max:2,left:950,top:32.3,itemWidth:5,itemHeight:69.4,calculable:false,text:null,realtime:false,hoverLink:false,padding:0,inRange:{color:['#4575b4','#91bfdb','#e0f3f8','#ffffbf','#fee090','#fc8d59','#d73027']}},
 series:series});
</script></body></html>
